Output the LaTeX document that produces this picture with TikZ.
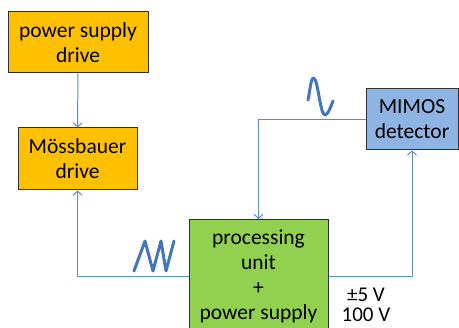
\documentclass[tikz,border=0pt]{standalone}
\usepackage{fontspec}
\setmainfont{Carlito}
\usetikzlibrary{arrows.meta, positioning}
\definecolor{driveorange}{RGB}{255, 192, 0}
\definecolor{detblue}{RGB}{141, 180, 226}
\definecolor{procgreen}{RGB}{146, 208, 80}
\definecolor{linkblue}{RGB}{91, 141, 205}
\definecolor{waveblue}{RGB}{68, 118, 186}
\definecolor{edgegray}{RGB}{50, 50, 50}
\tikzset{
  blk/.style       = {rectangle, draw=edgegray, line width=1pt, align=center, font=\fontsize{21.5}{25}\selectfont, inner sep=0pt},
  blkdrive/.style  = {blk, fill=driveorange},
  blkdet/.style    = {blk, fill=detblue},
  blkproc/.style   = {blk, fill=procgreen},
  flow/.style      = {-{Straight Barb[length=4pt, width=9pt]}, line width=1pt, linkblue},
  wave/.style      = {line width=3pt, waveblue, line cap=round, line join=round},
}

\begin{document}
\begin{tikzpicture}[x=1pt, y=-1pt]
  \useasboundingbox (0,0) rectangle (459,328);
  \clip (0,0) rectangle (459,328);
  \fill[white] (0,0) rectangle (459,328);

  \node[blkdrive, minimum width=140pt, minimum height=61pt] (psdrive) at (78,42.5) {power supply\\drive};
  \node[blkdrive, minimum width=119pt, minimum height=62pt] (moss) at (77.5,159) {Mössbauer\\drive};
  \node[blkdet, minimum width=92pt, minimum height=61pt] (mimos) at (412,119.5) {MIMOS\\detector};
  \node[blkproc, minimum width=139pt, minimum height=114pt, anchor=north] (proc) at (258.5,219) {processing\\unit\\+\\power supply};
  \node[font=\fontsize{21}{20}\selectfont, align=center, anchor=north, inner sep=0pt] (volt) at (366,288) {±5 V\\100 V};

  \draw[flow] (psdrive) -- (moss);
  \draw[flow] (mimos.west) -| (proc.north);
  \draw[flow] (proc.west) -| (moss.south);
  \draw[flow] (proc.east) -| (mimos.south);

  % signal shapes
  \draw[wave] (308,100) .. controls (310,90) and (311,78) .. (313.5,78)
    .. controls (318,78) and (320,115) .. (325,115)
    .. controls (328,115) and (331,106) .. (333,101);
  \draw[wave] (134,271) -- (145,241) -- (153,271) -- (161,241) -- (166,271) -- (174,241);
\end{tikzpicture}
\end{document}
